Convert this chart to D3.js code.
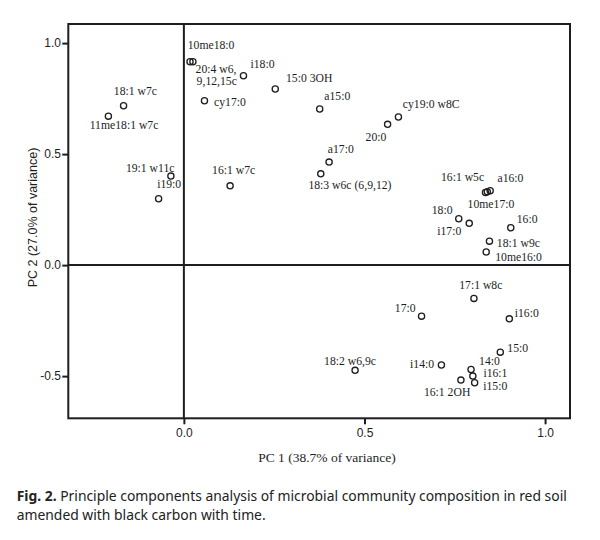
<!DOCTYPE html>
<html><head><meta charset="utf-8">
<script src="https://cdn.jsdelivr.net/npm/d3@7"></script>
<style>body{margin:0;background:#fff}</style>
</head><body>
<svg id="c" width="600" height="540"></svg>
<script>
// ---- data ----
const names = ["10me18:0","20:4 w6,\n9,12,15c","18:1 w7c","11me18:1 w7c","19:1 w11c","i19:0","cy17:0","16:1 w7c",
  "i18:0","15:0 3OH","a15:0","cy19:0 w8C","20:0","a17:0","18:3 w6c (6,9,12)",
  "16:1 w5c","a16:0","10me17:0","18:0","i17:0","16:0","18:1 w9c","10me16:0",
  "17:1 w8c","17:0","i16:0","15:0","18:2 w6,9c","i14:0","14:0","i16:1","i15:0","16:1 2OH"];
const pc1 = [0.017,0.025,-0.167,-0.209,-0.036,-0.070,0.057,0.128,
  0.165,0.253,0.376,0.594,0.564,0.402,0.379,
  0.835,0.848,0.840,0.761,0.790,0.905,0.846,0.837,
  0.803,0.658,0.901,0.876,0.474,0.713,0.795,0.800,0.805,0.767];
const pc2 = [0.916,0.916,0.718,0.671,0.401,0.299,0.740,0.357,
  0.853,0.793,0.703,0.667,0.634,0.464,0.411,
  0.327,0.335,0.330,0.209,0.188,0.168,0.108,0.059,
  -0.150,-0.230,-0.242,-0.392,-0.474,-0.450,-0.470,-0.500,-0.530,-0.518];
const xTicks = [0, 0.5, 1.0];
const xTickLabels = ["0.0","0.5","1.0"];
const yTicks = [-0.5, 0, 0.5, 1.0];
const yTickLabels = ["-0.5","0.0","0.5","1.0"];
const xTitle = "PC 1 (38.7% of variance)";
const yTitle = "PC 2 (27.0% of variance)";
const captionBold = "Fig. 2.";
const captionLine1 = " Principle components analysis of microbial community composition in red soil";
const captionLine2 = "amended with black carbon with time.";

// ---- layout (label offsets in px from the point: left edge, baseline) ----
const labelDx = [-2.3,2.7,-9.7,-18.7,-45,-1.4,9.6,-18,
  7,10.7,4.6,4.4,-22,-1.3,-12.4,
  -44.5,7.3,-19.7,-27,-32,6,7.4,9,
  -14.7,-26.7,5.4,7,-31,-31.3,8,10.6,8.6,-37];
const labelDy = [-12.4,11.2,-10.7,12.7,-4.3,-10.4,5,-11.4,
  -7.4,-6.7,-9,-8.7,16.4,-8.7,15.3,
  -11.8,-9,15.7,-4.7,11.7,-4.4,6.3,8.7,
  -9.3,-4.3,-2,0.3,-5.3,2.7,-4.3,0.9,7.6,16];

const L = 68.3, R = 570, T = 24, B = 418.3;
const ink = "#1e1e1e";
const x = d3.scaleLinear().domain([-0.320, 1.069]).range([L, R]);
const y = d3.scaleLinear().domain([-0.690, 1.086]).range([B, T]);

const svg = d3.select("#c");
svg.append("rect").attr("width",600).attr("height",540).attr("fill","#fff");

// frame
svg.append("rect").attr("x",L).attr("y",T).attr("width",R-L).attr("height",B-T)
  .attr("fill","none").attr("stroke",ink).attr("stroke-width",2);
// zero lines
svg.append("line").attr("x1",x(0)).attr("x2",x(0)).attr("y1",T).attr("y2",B)
  .attr("stroke",ink).attr("stroke-width",2);
svg.append("line").attr("x1",L).attr("x2",R).attr("y1",y(0)).attr("y2",y(0))
  .attr("stroke",ink).attr("stroke-width",2);

// axes
const gx = svg.append("g").attr("transform",`translate(0,${B})`)
  .call(d3.axisBottom(x).tickValues(xTicks).tickFormat((d,i)=>xTickLabels[i]).tickSize(6).tickPadding(4).tickSizeOuter(0));
const gy = svg.append("g").attr("transform",`translate(${L},0)`)
  .call(d3.axisLeft(y).tickValues(yTicks).tickFormat((d,i)=>yTickLabels[i]).tickSize(6).tickPadding(1.3).tickSizeOuter(0));
[gx,gy].forEach(g=>{
  g.select(".domain").remove();
  g.selectAll(".tick line").attr("stroke",ink).attr("stroke-width",2);
  g.selectAll(".tick text").attr("fill",ink).style("font-family","'Liberation Sans', Arial, sans-serif").style("font-size","12px");
});

// points
svg.append("g").selectAll("circle").data(names).join("circle")
  .attr("cx",(d,i)=>x(pc1[i])).attr("cy",(d,i)=>y(pc2[i])).attr("r",3.1)
  .attr("fill","none").attr("stroke",ink).attr("stroke-width",1.3);

// labels
const lg = svg.append("g").style("font-family","'Liberation Serif','Times New Roman',serif")
  .style("font-size","11.7px").attr("fill",ink);
names.forEach((n,i)=>{
  const px = x(pc1[i]) + labelDx[i], py = y(pc2[i]) + labelDy[i];
  const t = lg.append("text").attr("x",px).attr("y",py);
  n.split("\n").forEach((s,k)=>{
    t.append("tspan").attr("x",px + k*1).attr("y",py + k*11.8).text(s);
  });
});

// axis titles
svg.append("text").attr("x",327).attr("y",462.3).attr("text-anchor","middle")
  .style("font-family","'Liberation Serif','Times New Roman',serif").style("font-size","13.5px")
  .attr("fill",ink).text(xTitle);
svg.append("text").attr("transform","translate(36.5,217.5) rotate(-90)").attr("text-anchor","middle")
  .style("font-family","'Liberation Sans', Arial, sans-serif").style("font-size","12.5px")
  .attr("fill",ink).text(yTitle);

// caption
const cap = svg.append("g").style("font-family","'Noto Sans', sans-serif").attr("fill","#222");
const c1 = cap.append("text").attr("x",16.7).attr("y",500.7).style("font-size","13px");
c1.append("tspan").style("font-weight","bold").text(captionBold);
c1.append("tspan").text(captionLine1);
const w = c1.node().getComputedTextLength();
const fs = 13 * 551 / w;
c1.style("font-size", fs + "px");
cap.append("text").attr("x",16.7).attr("y",520).style("font-size", fs + "px").text(captionLine2);
</script>
</body></html>
